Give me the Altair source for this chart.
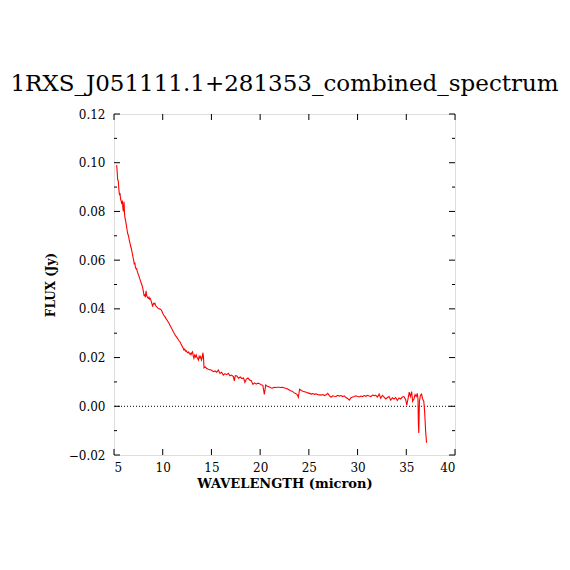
import altair as alt
import pandas as pd

wavelength = [
    5.27, 5.32, 5.38, 5.44, 5.50, 5.56, 5.62, 5.68, 5.74, 5.80, 5.86, 5.92, 5.97, 6.03, 6.08,
    6.14, 6.20, 6.26, 6.32, 6.37, 6.43, 6.49, 6.55, 6.61, 6.67, 6.72, 6.78, 6.84, 6.90, 6.96,
    7.02, 7.08, 7.14, 7.20, 7.26, 7.32, 7.38, 7.44, 7.50, 7.56, 7.62, 7.68, 7.74, 7.80, 7.86,
    7.92, 7.98, 8.04, 8.10, 8.16, 8.22, 8.29, 8.35, 8.41, 8.47, 8.53, 8.59, 8.65, 8.71, 8.77,
    8.83, 8.90, 8.96, 9.02, 9.08, 9.14, 9.20, 9.27, 9.33, 9.40, 9.47, 9.55, 9.62, 9.70, 9.78,
    9.86, 9.94, 10.02, 10.10, 10.18, 10.26, 10.34, 10.42, 10.50, 10.58, 10.66, 10.74, 10.82, 10.90, 10.98,
    11.06, 11.14, 11.22, 11.30, 11.38, 11.46, 11.54, 11.62, 11.70, 11.77, 11.85, 11.94, 12.02, 12.10, 12.18,
    12.26, 12.34, 12.42, 12.50, 12.58, 12.66, 12.74, 12.82, 12.90, 12.98, 13.06, 13.14, 13.20, 13.28, 13.36,
    13.44, 13.52, 13.60, 13.66, 13.74, 13.82, 13.90, 13.98, 14.06, 14.12, 14.18, 14.24, 14.35, 14.50, 14.67,
    14.85, 15.02, 15.20, 15.37, 15.54, 15.71, 15.88, 16.05, 16.22, 16.39, 16.56, 16.73, 16.90, 17.07, 17.25,
    17.35, 17.45, 17.62, 17.79, 17.96, 18.13, 18.30, 18.44, 18.58, 18.75, 18.92, 19.09, 19.26, 19.43, 19.60,
    19.77, 19.94, 20.11, 20.28, 20.43, 20.57, 20.74, 20.91, 21.08, 21.25, 21.42, 21.59, 21.76, 21.93, 22.10,
    22.27, 22.44, 22.61, 22.78, 22.95, 23.12, 23.29, 23.46, 23.63, 23.80, 23.92, 24.05, 24.22, 24.39, 24.56,
    24.73, 24.90, 25.07, 25.24, 25.41, 25.58, 25.75, 25.92, 26.09, 26.26, 26.43, 26.60, 26.77, 26.94, 27.11,
    27.28, 27.45, 27.62, 27.79, 27.96, 28.13, 28.30, 28.47, 28.64, 28.81, 28.98, 29.15, 29.32, 29.49, 29.66,
    29.83, 30.00, 30.17, 30.34, 30.51, 30.68, 30.85, 31.02, 31.19, 31.36, 31.53, 31.70, 31.87, 32.04, 32.21,
    32.38, 32.55, 32.72, 32.89, 33.06, 33.23, 33.40, 33.57, 33.74, 33.91, 34.08, 34.25, 34.42, 34.59, 34.76,
    34.93, 35.05, 35.20, 35.30, 35.42, 35.55, 35.65, 35.78, 35.90, 36.02, 36.13, 36.20, 36.24, 36.28, 36.35,
    36.45, 36.57, 36.68, 36.80, 36.88, 36.99, 37.08,
]

flux = [
    0.0990, 0.0965, 0.0930, 0.0925, 0.0890, 0.0870, 0.0872, 0.0850, 0.0842, 0.0830, 0.0845, 0.0810, 0.0800, 0.0840, 0.0790,
    0.0770, 0.0760, 0.0745, 0.0730, 0.0717, 0.0705, 0.0700, 0.0685, 0.0675, 0.0665, 0.0655, 0.0648, 0.0635, 0.0625, 0.0610,
    0.0600, 0.0582, 0.0590, 0.0570, 0.0565, 0.0566, 0.0555, 0.0548, 0.0540, 0.0535, 0.0525, 0.0520, 0.0512, 0.0505, 0.0498,
    0.0490, 0.0480, 0.0465, 0.0452, 0.0460, 0.0448, 0.0474, 0.0455, 0.0450, 0.0445, 0.0443, 0.0448, 0.0440, 0.0443, 0.0438,
    0.0430, 0.0420, 0.0409, 0.0418, 0.0423, 0.0420, 0.0423, 0.0415, 0.0410, 0.0408, 0.0404, 0.0402, 0.0400, 0.0400, 0.0398,
    0.0395, 0.0388, 0.0380, 0.0375, 0.0370, 0.0366, 0.0360, 0.0355, 0.0350, 0.0345, 0.0340, 0.0333, 0.0327, 0.0320, 0.0315,
    0.0308, 0.0302, 0.0298, 0.0290, 0.0287, 0.0282, 0.0278, 0.0272, 0.0268, 0.0265, 0.0258, 0.0251, 0.0245, 0.0238, 0.0231,
    0.0235, 0.0226, 0.0228, 0.0222, 0.0220, 0.0223, 0.0216, 0.0218, 0.0212, 0.0220, 0.0224, 0.0205, 0.0197, 0.0210, 0.0203,
    0.0211, 0.0200, 0.0195, 0.0190, 0.0205, 0.0198, 0.0204, 0.0190, 0.0200, 0.0220, 0.0205, 0.0158, 0.0162, 0.0156, 0.0152,
    0.0150, 0.0148, 0.0142, 0.0145, 0.0140, 0.0149, 0.0135, 0.0140, 0.0128, 0.0134, 0.0130, 0.0135, 0.0125, 0.0128, 0.0122,
    0.0104, 0.0126, 0.0124, 0.0115, 0.0120, 0.0114, 0.0116, 0.0098, 0.0112, 0.0116, 0.0108, 0.0105, 0.0090, 0.0096, 0.0091,
    0.0095, 0.0093, 0.0088, 0.0086, 0.0049, 0.0087, 0.0082, 0.0080, 0.0076, 0.0074, 0.0078, 0.0077, 0.0078, 0.0078, 0.0077,
    0.0078, 0.0076, 0.0074, 0.0072, 0.0068, 0.0064, 0.0062, 0.0056, 0.0053, 0.0048, 0.0037, 0.0070, 0.0065, 0.0062, 0.0060,
    0.0058, 0.0055, 0.0053, 0.0050, 0.0052, 0.0049, 0.0051, 0.0048, 0.0047, 0.0046, 0.0048, 0.0044, 0.0047, 0.0053, 0.0044,
    0.0037, 0.0043, 0.0041, 0.0040, 0.0045, 0.0042, 0.0044, 0.0040, 0.0043, 0.0036, 0.0032, 0.0025, 0.0035, 0.0038, 0.0040,
    0.0043, 0.0040, 0.0038, 0.0042, 0.0040, 0.0044, 0.0041, 0.0045, 0.0042, 0.0040, 0.0046, 0.0044, 0.0045, 0.0038, 0.0050,
    0.0033, 0.0045, 0.0038, 0.0030, 0.0036, 0.0040, 0.0025, 0.0035, 0.0030, 0.0036, 0.0024, 0.0034, 0.0030, 0.0038, 0.0040,
    0.0028, 0.0005, 0.0035, 0.0058, 0.0040, 0.0060, 0.0020, 0.0030, 0.0048, 0.0040, 0.0053, 0.0030, -0.0070, -0.0110, 0.0020,
    0.0045, 0.0050, 0.0030, 0.0020, -0.0020, -0.0104, -0.0150,
]

title_text = "1RXS_J051111.1+281353_combined_spectrum"
x_title = "WAVELENGTH (micron)"
y_title = "FLUX (Jy)"
x_domain = [5, 40]
y_domain = [-0.02, 0.12]
x_major = [5, 10, 15, 20, 25, 30, 35, 40]
y_major = [-0.02, 0.0, 0.02, 0.04, 0.06, 0.08, 0.10, 0.12]
y_minor = [-0.01, 0.01, 0.03, 0.05, 0.07, 0.09, 0.11]
zero_line = [0.0]

W = 341
H = 341
FONT = "DejaVu Serif"

spec = pd.DataFrame({"wl": wavelength, "flux": flux})
xs = alt.Scale(domain=x_domain, nice=False, zero=False)
ys = alt.Scale(domain=y_domain, nice=False, zero=False)

x_axis = alt.Axis(values=x_major, format="d", ticks=False, grid=False, domain=False,
                  labelFont=FONT, labelFontSize=12, labelColor="black", labelPadding=7,
                  titleFont=FONT, titleFontSize=13, titleFontWeight="bold", titleColor="black",
                  titlePadding=4)
y_axis = alt.Axis(values=y_major, format=".2f", ticks=False, grid=False, domain=False,
                  labelFont=FONT, labelFontSize=12, labelColor="black", labelPadding=9,
                  titleFont=FONT, titleFontSize=12, titleFontWeight="bold", titleColor="black",
                  titlePadding=11)

line = alt.Chart(spec).mark_line(color="#ff0000", strokeWidth=1.1).encode(
    x=alt.X("wl:Q", scale=xs, axis=x_axis, title=x_title),
    y=alt.Y("flux:Q", scale=ys, axis=y_axis, title=y_title),
)

zero = alt.Chart(pd.DataFrame({"flux": zero_line})).mark_rule(
    color="black", strokeWidth=1, strokeDash=[1, 2]
).encode(y=alt.Y("flux:Q", scale=ys, title=y_title))

ymaj = pd.DataFrame({"flux": y_major})
ymin = pd.DataFrame({"flux": y_minor})
xmaj = pd.DataFrame({"wl": x_major})

def yticks(df, x0, x1):
    return alt.Chart(df).mark_rule(color="black", strokeWidth=1).encode(
        y=alt.Y("flux:Q", scale=ys, title=y_title),
        x=alt.value(x0), x2=alt.value(x1))

def xticks(df, y0, y1):
    return alt.Chart(df).mark_rule(color="black", strokeWidth=1).encode(
        x=alt.X("wl:Q", scale=xs, title=x_title),
        y=alt.value(y0), y2=alt.value(y1))

chart = alt.layer(
    zero,
    line,
    yticks(ymaj, 0, 6), yticks(ymaj, W - 6, W),
    yticks(ymin, 0, 3), yticks(ymin, W - 3, W),
    xticks(xmaj, H - 6, H), xticks(xmaj, 0, 6),
).properties(
    width=W, height=H,
    autosize="none",
    padding={"left": 106, "top": 106, "right": 106, "bottom": 107},
    title=alt.TitleParams(title_text, font=FONT, fontSize=23, fontWeight="normal",
                          color="black", anchor="middle", offset=12),
).configure_view(stroke="black", strokeWidth=1.5).configure(background="white")

chart.save("out.html", embed_options={"renderer": "svg", "actions": False})
